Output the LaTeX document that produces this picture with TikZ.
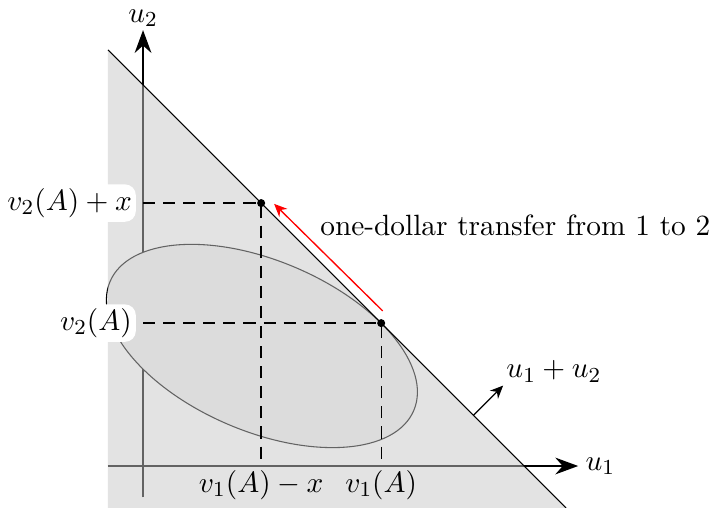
\documentclass[tikz,border=0pt,11pt]{standalone}
\usepackage{amsmath}
\usetikzlibrary{arrows.meta, calc, positioning}

\tikzset{
    guide/.style={dash pattern=on 4.5pt off 3pt, line width=.5pt},
    dot/.style={fill, circle, inner sep=0pt, minimum size=3pt},
    axlabel/.style={fill=white, rounded corners=4pt, inner sep=1.5pt},
    axarrow/.style={-{Stealth[length=3mm, width=2.2mm]}, line width=.6pt},
    small/.style={-{Stealth[length=1.7mm, width=1.5mm]}}
}

\begin{document}
\begin{tikzpicture}
\useasboundingbox (-1.877,-0.551) rectangle (7.44,6.115);
\coordinate (O) at (0,0);
\coordinate (A) at (3.125,1.875);
\coordinate (B) at (1.55,3.45);
\draw[axarrow] (-0.46,0) -- (5.71,0) node[right, inner sep=2.5pt] (u1) {$u_1$};
\draw[axarrow] (0,-0.41) -- (0,5.72) node[above, inner sep=1pt] (u2) {$u_2$};
\draw[fill=black!5, line width=.4pt] (1.56,1.575) circle[x radius=2.165, y radius=1.12, rotate=-23];
\fill[black!22, opacity=.5] (-0.46,5.46) -- (5.551,-0.551) -- (-0.46,-0.551) -- cycle;
\draw[line width=.4pt] (-0.46,5.46) -- (5.551,-0.551);
\draw[guide] (O |- A) -- (A) -- (A |- O);
\draw[guide] (O |- B) -- (B) -- (B |- O);
\node[dot] (a) at (A) {};
\node[dot] (b) at (B) {};
\node[axlabel, left=2.5pt of {O |- A}] (v2) {$v_2(A)$};
\node[axlabel, left=2.5pt of {O |- B}] (v2x) {$v_2(A)+x$};
\node[below, inner sep=1.5pt] (v1) at (A |- O) {$v_1(A)$};
\node[below, inner sep=1.5pt] (v1x) at (B |- O) {$v_1(A)-x$};
\draw[red, line width=.5pt, small] ($(A)+(0.02,0.16)$) -- ($(B)+(0.17,-0.01)$);
\node[anchor=base west, inner sep=0pt] (move) at (2.32,3.022) {one-dollar transfer from 1 to 2};
\coordinate (n) at (4.335,0.665);
\draw[small, line width=.5pt] (n) -- ++(0.39,0.39) node[above right, inner sep=1pt] (sum) {$u_1+u_2$};
\end{tikzpicture}
\end{document}
